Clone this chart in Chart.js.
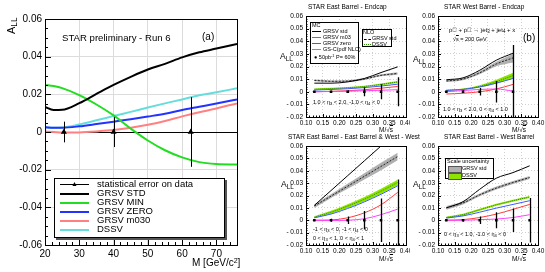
<!DOCTYPE html>
<html><head><meta charset="utf-8">
<script src="https://cdn.jsdelivr.net/npm/chart.js@4.4.1/dist/chart.umd.min.js"></script>
<style>
html,body{margin:0;padding:0;background:#fff;}
body{width:545px;height:272px;position:relative;overflow:hidden;font-family:"Liberation Sans",Arial,Helvetica,sans-serif;color:#000;}
canvas{position:absolute;}
.t{position:absolute;white-space:nowrap;line-height:1;}
.t sub{font-size:75%;vertical-align:-0.3em;line-height:0;}
.t sup{font-size:70%;vertical-align:0.45em;line-height:0;}
.box{position:absolute;border:1px solid #000;background:#fff;box-sizing:border-box;}
.ln{position:absolute;height:0;}
.ov{text-decoration:overline;}
</style></head><body>
<canvas id="cL" width="270" height="272" style="left:0;top:0"></canvas>
<canvas id="cA" width="140" height="126" style="left:270px;top:10px"></canvas>
<canvas id="cB" width="135" height="126" style="left:410px;top:10px"></canvas>
<canvas id="cC" width="140" height="132" style="left:270px;top:140px"></canvas>
<canvas id="cD" width="135" height="132" style="left:410px;top:140px"></canvas>

<!-- left panel texts -->
<div class="t" style="left:6px;top:34px;font-size:11px;transform:rotate(-90deg);transform-origin:0 0;">A<sub>LL</sub></div>
<div class="t" style="left:62px;top:33px;font-size:9.6px;">STAR preliminary - Run 6</div>
<div class="t" style="left:202px;top:32px;font-size:10px;">(a)</div>
<div class="t" style="left:192px;top:258px;font-size:10px;">M [GeV/c<sup>2</sup>]</div>

<div class="box" style="left:54px;top:178px;width:171px;height:60px;box-shadow:2px 2px 0 #555;"></div>
<div class="ln" style="left:60px;top:184px;width:29px;border-top:1px solid #000;"></div>
<div class="t" style="left:71px;top:180px;font-size:7px;">&#9650;</div>
<div class="t" style="left:97px;top:179px;font-size:9.5px;">statistical error on data</div>
<div class="ln" style="left:60px;top:192.5px;width:29px;border-top:2.5px solid #000;"></div>
<div class="t" style="left:97px;top:188px;font-size:9.5px;">GRSV STD</div>
<div class="ln" style="left:60px;top:201.5px;width:29px;border-top:2.5px solid #22dd22;"></div>
<div class="t" style="left:97px;top:197px;font-size:9.5px;">GRSV MIN</div>
<div class="ln" style="left:60px;top:210.5px;width:29px;border-top:2.5px solid #2233ff;"></div>
<div class="t" style="left:97px;top:206px;font-size:9.5px;">GRSV ZERO</div>
<div class="ln" style="left:60px;top:219.5px;width:29px;border-top:2.5px solid #ff8080;"></div>
<div class="t" style="left:97px;top:215px;font-size:9.5px;">GRSV m030</div>
<div class="ln" style="left:60px;top:228.5px;width:29px;border-top:2.5px solid #66dddd;"></div>
<div class="t" style="left:97px;top:224px;font-size:9.5px;">DSSV</div>

<!-- right panel titles -->
<div class="t" style="left:308px;top:4px;font-size:6.5px;">STAR East Barrel - Endcap</div>
<div class="t" style="left:444px;top:4px;font-size:6.5px;">STAR West Barrel - Endcap</div>
<div class="t" style="left:288px;top:134px;font-size:6.5px;">STAR East Barrel - East Barrel &amp; West - West</div>
<div class="t" style="left:444px;top:134px;font-size:6.5px;">STAR East Barrel - West Barrel</div>

<div class="t" style="left:280px;top:52px;font-size:8.5px;">A<sub>LL</sub></div>
<div class="t" style="left:413px;top:55px;font-size:8.5px;">A<sub>LL</sub></div>
<div class="t" style="left:281px;top:180px;font-size:8.5px;">A<sub>LL</sub></div>
<div class="t" style="left:413px;top:180px;font-size:8.5px;">A<sub>LL</sub></div>

<div class="t" style="left:379px;top:127px;font-size:6.5px;">M/&#8730;<span class="ov">s</span></div>
<div class="t" style="left:512px;top:127px;font-size:6.5px;">M/&#8730;<span class="ov">s</span></div>
<div class="t" style="left:379px;top:256px;font-size:6.5px;">M/&#8730;<span class="ov">s</span></div>
<div class="t" style="left:512px;top:256px;font-size:6.5px;">M/&#8730;<span class="ov">s</span></div>

<!-- panel A legends -->
<div class="box" style="left:310px;top:22px;width:49px;height:42px;"></div>
<div class="t" style="left:312px;top:23px;font-size:5.5px;">MC</div>
<div class="ln" style="left:312px;top:31px;width:9px;border-top:1px solid #000;"></div>
<div class="t" style="left:323px;top:28.5px;font-size:5.5px;">GRSV std</div>
<div class="ln" style="left:312px;top:37px;width:9px;border-top:1px solid #ff3b3b;"></div>
<div class="t" style="left:323px;top:34.5px;font-size:5.5px;">GRSV m03</div>
<div class="ln" style="left:312px;top:43px;width:9px;border-top:1px solid #3c5cff;"></div>
<div class="t" style="left:323px;top:40.5px;font-size:5.5px;">GRSV zero</div>
<div class="ln" style="left:312px;top:49px;width:9px;border-top:1px solid #ff40ff;"></div>
<div class="t" style="left:323px;top:46.5px;font-size:5.5px;">GS-C(pdf NLO)</div>
<div class="t" style="left:314px;top:55px;font-size:5.5px;">&#9679; 50pb<sup>-1</sup> P= 60%</div>

<div class="box" style="left:362px;top:29px;width:30px;height:18px;"></div>
<div class="t" style="left:363px;top:30px;font-size:5.5px;">NLO</div>
<div class="ln" style="left:364px;top:38.5px;width:7px;border-top:1px dashed #000;"></div>
<div class="t" style="left:372px;top:36px;font-size:5.5px;">GRSV std</div>
<div class="ln" style="left:364px;top:44px;width:7px;border-top:1.5px dotted #2f8f00;"></div>
<div class="t" style="left:372px;top:41.5px;font-size:5.5px;">DSSV</div>

<div class="t" style="left:313px;top:100px;font-size:5.5px;">1.0 &lt; &#951;<sub>3</sub> &lt; 2.0, -1.0 &lt; &#951;<sub>4</sub> &lt; 0</div>

<!-- panel B texts -->
<div class="t" style="left:449px;top:27px;font-size:6px;">p&#8407; + p&#8407; &#8594; jet<sub>3</sub> + jet<sub>4</sub> + x</div>
<div class="t" style="left:453px;top:37px;font-size:5.5px;">&#8730;<span class="ov">s</span> = 200 GeV</div>
<div class="t" style="left:523px;top:33px;font-size:10px;">(b)</div>
<div class="t" style="left:443px;top:107px;font-size:5.5px;">1.0 &lt; &#951;<sub>3</sub> &lt; 2.0, 0 &lt; &#951;<sub>4</sub> &lt; 1.0</div>

<!-- panel C texts -->
<div class="t" style="left:313px;top:227px;font-size:5.5px;">-1 &lt; &#951;<sub>3</sub> &lt; 0, -1 &lt; &#951;<sub>4</sub> &lt; 0</div>
<div class="t" style="left:313px;top:236px;font-size:5.5px;">0 &lt; &#951;<sub>3</sub> &lt; 1, 0 &lt; &#951;<sub>4</sub> &lt; 1</div>

<!-- panel D texts -->
<div class="box" style="left:445px;top:158px;width:49px;height:21px;"></div>
<div class="t" style="left:447px;top:159px;font-size:5.5px;">Scale uncertainty</div>
<div style="position:absolute;left:448px;top:166px;width:12px;height:5px;background:#b0b0b0;border:0.5px solid #555;"></div>
<div class="t" style="left:462px;top:166px;font-size:5.5px;">GRSV std</div>
<div style="position:absolute;left:448px;top:172.5px;width:12px;height:5px;background:#8ee400;border:0.5px solid #555;"></div>
<div class="t" style="left:462px;top:172.5px;font-size:5.5px;">DSSV</div>
<div class="t" style="left:444px;top:232px;font-size:5.5px;">0 &lt; &#951;<sub>3</sub> &lt; 1.0, -1.0 &lt; &#951;<sub>4</sub> &lt; 0</div>

<script>
// ================= DATA =================
// Left panel (a): A_LL vs M [GeV/c^2]
const leftX     = [20, 22.5, 25, 30, 35, 40, 45, 50, 55, 60, 65, 70, 76];
const grsvStd   = [0.0133, 0.0117, 0.0118, 0.0153, 0.0202, 0.0250, 0.0293, 0.0332, 0.0362, 0.0396, 0.0423, 0.0443, 0.0468];
const grsvMin   = [0.0250, 0.0244, 0.0233, 0.0196, 0.0146, 0.0088, 0.0018, -0.0045, -0.0097, -0.0135, -0.0160, -0.0170, -0.0173];
const grsvZero  = [0.0025, 0.0023, 0.0023, 0.0030, 0.0042, 0.0055, 0.0068, 0.0082, 0.0097, 0.0117, 0.0134, 0.0151, 0.0173];
const grsvM030  = [0.0003, 0.0000, -0.0003, -0.0002, 0.0003, 0.0010, 0.0022, 0.0038, 0.0058, 0.0083, 0.0105, 0.0125, 0.0152];
const dssvLeft  = [0.0025, 0.0023, 0.0024, 0.0040, 0.0062, 0.0085, 0.0107, 0.0130, 0.0152, 0.0173, 0.0195, 0.0211, 0.0232];
const dataM     = [25.5, 40, 62.5];
const dataALL   = [0, 0, 0];
const dataErr   = [0.0055, 0.008, 0.0185];
const leftXTicks = [20, 30, 40, 50, 60, 70];
const leftYTicks = [-0.06, -0.04, -0.02, 0, 0.02, 0.04, 0.06];

// Right panels: A_LL vs M/sqrt(s)
const rightXTicks = [0.10, 0.15, 0.20, 0.25, 0.30, 0.35, 0.40];
const rightYTicks = [-0.02, -0.01, 0, 0.01, 0.02, 0.03, 0.04, 0.05, 0.06];
const bins6 = [0.125, 0.175, 0.225, 0.275, 0.325, 0.375];
const bins5 = [0.125, 0.175, 0.225, 0.275, 0.325];

// Panel: East Barrel - Endcap
const aStd    = [0.0068, 0.0068, 0.0078, 0.0105, 0.0152, 0.0197];
const aM03    = [0.0000, 0.0003, 0.0008, 0.0016, 0.0028, 0.0042];
const aZero   = [0.0013, 0.0018, 0.0024, 0.0033, 0.0045, 0.0060];
const aGSC    = [0.0000, 0.0002, 0.0005, 0.0008, 0.0012, 0.0016];
const aNlo    = [0.0090, 0.0083, 0.0085, 0.0100, 0.0130, 0.0145];
const aNloLo  = [0.0083, 0.0077, 0.0079, 0.0093, 0.0122, 0.0135];
const aNloHi  = [0.0097, 0.0090, 0.0092, 0.0108, 0.0138, 0.0155];
const aDssv   = [0.0020, 0.0025, 0.0032, 0.0042, 0.0058, 0.0078];
const aDssvLo = [0.0014, 0.0019, 0.0026, 0.0036, 0.0051, 0.0070];
const aDssvHi = [0.0026, 0.0031, 0.0038, 0.0048, 0.0065, 0.0086];
const aPts    = [0, 0, 0, 0, 0, 0];
const aErr    = [0.0005, 0.0007, 0.0010, 0.0035, 0.0060, 0.0115];

// Panel: West Barrel - Endcap
const bStd    = [0.0095, 0.0110, 0.0170, 0.0250, 0.0305];
const bM03    = [-0.0018, -0.0012, 0.0000, 0.0022, 0.0058];
const bZero   = [0.0010, 0.0018, 0.0038, 0.0068, 0.0105];
const bGSC    = [0.0000, 0.0010, 0.0018, 0.0022, 0.0005];
const bNlo    = [0.0085, 0.0100, 0.0150, 0.0220, 0.0268];
const bNloLo  = [0.0078, 0.0092, 0.0138, 0.0202, 0.0232];
const bNloHi  = [0.0092, 0.0108, 0.0162, 0.0238, 0.0300];
const bDssv   = [0.0012, 0.0020, 0.0042, 0.0080, 0.0128];
const bDssvLo = [0.0009, 0.0015, 0.0033, 0.0065, 0.0105];
const bDssvHi = [0.0015, 0.0025, 0.0051, 0.0095, 0.0150];
const bPts    = [0, 0, 0, 0, 0];
const bErr    = [0.0006, 0.0010, 0.0030, 0.0085, 0.0370];

// Panel: East Barrel - East Barrel & West - West
const cStd    = [0.0120, 0.0240, 0.0360, 0.0480, 0.0600, 0.0720];
const cM03    = [0.0000, 0.0002, 0.0020, 0.0060, 0.0125, 0.0225];
const cZero   = [0.0020, 0.0050, 0.0095, 0.0148, 0.0210, 0.0278];
const cGSC    = [0.0000, -0.0002, 0.0000, 0.0012, 0.0045, 0.0090];
const cNlo    = [0.0115, 0.0195, 0.0275, 0.0355, 0.0435, 0.0515];
const cNloLo  = [0.0100, 0.0180, 0.0255, 0.0330, 0.0405, 0.0485];
const cNloHi  = [0.0130, 0.0210, 0.0295, 0.0380, 0.0465, 0.0545];
const cDssv   = [0.0025, 0.0065, 0.0115, 0.0170, 0.0235, 0.0305];
const cDssvLo = [0.0017, 0.0053, 0.0100, 0.0152, 0.0215, 0.0283];
const cDssvHi = [0.0033, 0.0077, 0.0130, 0.0188, 0.0255, 0.0327];
const cPts    = [0, 0, 0, 0, 0, 0];
const cErr    = [0.0006, 0.0012, 0.0030, 0.0075, 0.0175, 0.0330];

// Panel: East Barrel - West Barrel
const dStd    = [0.0100, 0.0150, 0.0250, 0.0340, 0.0385, 0.0440];
const dM03    = [0.0000, 0.0005, 0.0022, 0.0050, 0.0088, 0.0128];
const dZero   = [0.0018, 0.0035, 0.0065, 0.0098, 0.0128, 0.0158];
const dGSC    = [0.0000, 0.0000, 0.0005, 0.0010, 0.0022, 0.0045];
const dNlo    = [0.0100, 0.0140, 0.0205, 0.0260, 0.0305, 0.0345];
const dNloLo  = [0.0085, 0.0128, 0.0193, 0.0248, 0.0293, 0.0333];
const dNloHi  = [0.0115, 0.0152, 0.0217, 0.0272, 0.0317, 0.0357];
const dDssv   = [0.0022, 0.0045, 0.0085, 0.0125, 0.0158, 0.0188];
const dDssvLo = [0.0014, 0.0037, 0.0077, 0.0117, 0.0150, 0.0180];
const dDssvHi = [0.0030, 0.0053, 0.0093, 0.0133, 0.0166, 0.0196];
const dPts    = [0, 0, 0, 0, 0, 0];
const dErr    = [0.0006, 0.0010, 0.0030, 0.0065, 0.0095, 0.0180];

// ================= HELPERS =================
Chart.defaults.font.family = '"Liberation Sans", Arial, Helvetica, sans-serif';
Chart.defaults.color = '#000';
const pts = (xs, ys) => xs.map((x, i) => ({x: x, y: ys[i]}));
const fmtL = v => Math.abs(v) < 1e-9 ? '0' : v.toFixed(2);
const fmtR = v => Math.abs(v) < 1e-9 ? '0' : (v < 0 ? '- ' + Math.abs(v).toFixed(2) : v.toFixed(2));

function frameTicks(o) {
  return {
    id: 'frameTicks',
    afterDatasetsDraw(chart) {
      const {ctx, chartArea: a, scales: {x, y}} = chart;
      ctx.save();
      ctx.strokeStyle = '#000';
      ctx.lineWidth = 1;
      ctx.beginPath();
      const drawX = (v, len) => { const p = Math.round(x.getPixelForValue(v)) + 0.5; ctx.moveTo(p, a.bottom); ctx.lineTo(p, a.bottom - len); };
      const drawY = (v, len) => { const p = Math.round(y.getPixelForValue(v)) + 0.5; ctx.moveTo(a.left, p); ctx.lineTo(a.left + len, p); };
      const minors = (ticks, n, lo, hi, fn) => {
        const st = (ticks[1] - ticks[0]) / n;
        for (let v = ticks[0] - st * n; v <= hi + 1e-9; v += st) {
          if (v < lo - 1e-9) continue;
          const isMajor = ticks.some(t => Math.abs(t - v) < st * 0.01);
          if (!isMajor) fn(v, o.minLen);
        }
      };
      o.xTicks.forEach(v => drawX(v, o.majLen));
      o.yTicks.forEach(v => drawY(v, o.majLen));
      minors(o.xTicks, o.xMinor, x.min, x.max, drawX);
      minors(o.yTicks, o.yMinor, y.min, y.max, drawY);
      ctx.stroke();
      ctx.strokeRect(Math.round(a.left) + 0.5, Math.round(a.top) + 0.5, Math.round(a.right - a.left), Math.round(a.bottom - a.top));
      ctx.restore();
    }
  };
}

function errBars(o) {
  return {
    id: 'errBars',
    beforeDatasetDraw(chart, args) {
      if (args.index !== o.index) return;
      const {ctx, chartArea: a, scales: {x, y}} = chart;
      ctx.save();
      ctx.beginPath();
      ctx.rect(a.left, a.top, a.right - a.left, a.bottom - a.top);
      ctx.clip();
      ctx.strokeStyle = '#000';
      ctx.lineWidth = o.width;
      ctx.beginPath();
      o.xs.forEach((xv, i) => {
        const px = Math.round(x.getPixelForValue(xv)) + 0.5;
        ctx.moveTo(px, y.getPixelForValue(o.ys[i] - o.errs[i]));
        ctx.lineTo(px, y.getPixelForValue(o.ys[i] + o.errs[i]));
      });
      ctx.stroke();
      ctx.restore();
    }
  };
}

function fixAxis(size, dim) {
  return s => {
    s[dim] = size;
    s.paddingLeft = 0; s.paddingRight = 0; s.paddingTop = 0; s.paddingBottom = 0;
  };
}
const setTicks = arr => s => { s.ticks = arr.map(v => ({value: v})); };

// ================= LEFT CHART =================
const curve = (data, color) => ({
  data: data, borderColor: color, borderWidth: 2, pointRadius: 0,
  cubicInterpolationMode: 'monotone', fill: false, order: 2
});
new Chart(document.getElementById('cL'), {
  type: 'line',
  data: {
    datasets: [
      curve(pts(leftX, grsvStd), '#000000'),
      curve(pts(leftX, grsvMin), '#22dd22'),
      curve(pts(leftX, grsvZero), '#2233ff'),
      curve(pts(leftX, grsvM030), '#ff8080'),
      curve(pts(leftX, dssvLeft), '#66dddd'),
      {data: pts(dataM, dataALL), showLine: false, pointStyle: 'triangle', pointRadius: 3.5,
       backgroundColor: '#000', borderColor: '#000', borderWidth: 0, order: 0}
    ]
  },
  options: {
    responsive: false, animation: false, events: [],
    layout: {padding: {left: 0, top: 19, right: 33, bottom: 0}},
    plugins: {legend: {display: false}, tooltip: {enabled: false}},
    scales: {
      x: {
        type: 'linear', min: 20, max: 76,
        afterBuildTicks: setTicks(leftXTicks),
        afterFit: fixAxis(27, 'height'),
        ticks: {font: {size: 10}, padding: 3, maxRotation: 0, autoSkip: false, callback: v => String(v)},
        grid: {color: '#dcdcdc', drawTicks: false, lineWidth: 1},
        border: {display: false}
      },
      y: {
        type: 'linear', min: -0.06, max: 0.06,
        afterBuildTicks: setTicks(leftYTicks),
        afterFit: fixAxis(45, 'width'),
        ticks: {font: {size: 10}, padding: 3, autoSkip: false, callback: v => fmtL(v)},
        grid: {color: ctx => (ctx.tick && Math.abs(ctx.tick.value) < 1e-9) ? '#000' : '#dcdcdc', drawTicks: false, lineWidth: 1},
        border: {display: false}
      }
    }
  },
  plugins: [
    frameTicks({xTicks: leftXTicks, yTicks: leftYTicks, xMinor: 5, yMinor: 4, majLen: 6, minLen: 3}),
    errBars({index: 5, xs: dataM, ys: dataALL, errs: dataErr, width: 1})
  ]
});

// ================= RIGHT CHARTS =================
function rightChart(id, P, L) {
  const thin = (data, color, order, extra) => Object.assign({
    data: data, borderColor: color, borderWidth: 1, pointRadius: 0,
    cubicInterpolationMode: 'monotone', fill: false, order: order
  }, extra || {});
  const X = P.x;
  const datasets = [
    thin(pts(X, P.nloLo), 'transparent', 20),
    thin(pts(X, P.nloHi), 'transparent', 19, {fill: '-1', backgroundColor: '#b0b0b0'}),
    thin(pts(X, P.nlo), '#222', 5, {borderDash: [2, 1.5]}),
    thin(pts(X, P.dssvLo), 'transparent', 18),
    thin(pts(X, P.dssvHi), 'transparent', 17, {fill: '-1', backgroundColor: '#8ee400'}),
    thin(pts(X, P.dssv), '#2f8f00', 4, {borderDash: [1, 1]}),
    thin(pts(X, P.gsc), '#ff40ff', 3),
    thin(pts(X, P.m03), '#ff3b3b', 3),
    thin(pts(X, P.zero), '#3c5cff', 3),
    thin(pts(X, P.std), '#000', 2),
    {data: pts(X, P.pts), showLine: false, pointStyle: 'rect', pointRadius: 1.8,
     backgroundColor: '#000', borderColor: '#000', borderWidth: 0, order: 0}
  ];
  new Chart(document.getElementById(id), {
    type: 'line',
    data: {datasets: datasets},
    options: {
      responsive: false, animation: false, events: [],
      layout: {padding: {left: 0, top: L.top, right: L.right, bottom: 0}},
      plugins: {legend: {display: false}, tooltip: {enabled: false}},
      scales: {
        x: {
          type: 'linear', min: 0.1, max: 0.4,
          afterBuildTicks: setTicks(rightXTicks),
          afterFit: fixAxis(L.xH, 'height'),
          ticks: {font: {size: 6.5}, padding: 2, maxRotation: 0, autoSkip: false, callback: v => v.toFixed(2)},
          grid: {color: '#c4c4c4', drawTicks: false, lineWidth: 0.8},
          border: {display: false, dash: [1, 2]}
        },
        y: {
          type: 'linear', min: -0.02, max: 0.06,
          afterBuildTicks: setTicks(rightYTicks),
          afterFit: fixAxis(L.yW, 'width'),
          ticks: {font: {size: 6.5}, padding: 3, autoSkip: false, callback: v => fmtR(v)},
          grid: {color: '#c4c4c4', drawTicks: false, lineWidth: 0.8},
          border: {display: false, dash: [1, 2]}
        }
      }
    },
    plugins: [
      frameTicks({xTicks: rightXTicks, yTicks: rightYTicks, xMinor: 5, yMinor: 5, majLen: 3, minLen: 1.5}),
      errBars({index: 10, xs: X, ys: P.pts, errs: P.err, width: 1.3})
    ]
  });
}

rightChart('cA', {x: bins6, std: aStd, m03: aM03, zero: aZero, gsc: aGSC, nlo: aNlo, nloLo: aNloLo, nloHi: aNloHi,
  dssv: aDssv, dssvLo: aDssvLo, dssvHi: aDssvHi, pts: aPts, err: aErr}, {top: 6, right: 4, xH: 19, yW: 36});
rightChart('cB', {x: bins5, std: bStd, m03: bM03, zero: bZero, gsc: bGSC, nlo: bNlo, nloLo: bNloLo, nloHi: bNloHi,
  dssv: bDssv, dssvLo: bDssvLo, dssvHi: bDssvHi, pts: bPts, err: bErr}, {top: 6, right: 7, xH: 19, yW: 28});
rightChart('cC', {x: bins6, std: cStd, m03: cM03, zero: cZero, gsc: cGSC, nlo: cNlo, nloLo: cNloLo, nloHi: cNloHi,
  dssv: cDssv, dssvLo: cDssvLo, dssvHi: cDssvHi, pts: cPts, err: cErr}, {top: 6, right: 4, xH: 27, yW: 36});
rightChart('cD', {x: bins6, std: dStd, m03: dM03, zero: dZero, gsc: dGSC, nlo: dNlo, nloLo: dNloLo, nloHi: dNloHi,
  dssv: dDssv, dssvLo: dDssvLo, dssvHi: dDssvHi, pts: dPts, err: dErr}, {top: 6, right: 7, xH: 27, yW: 28});
</script>
</body></html>
